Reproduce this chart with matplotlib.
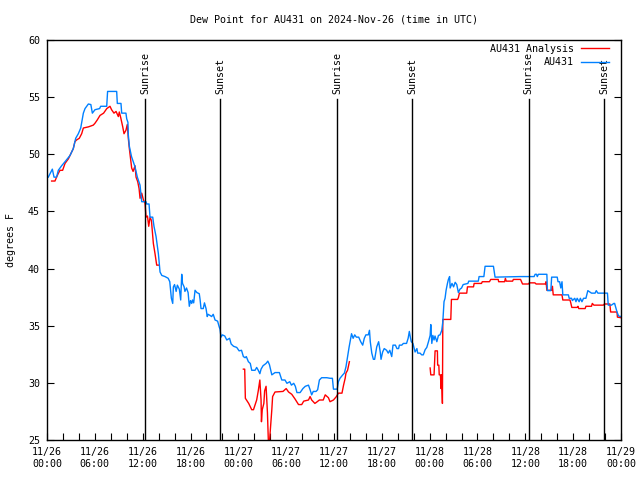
import numpy as np
import matplotlib
matplotlib.use('Agg')
import matplotlib.pyplot as plt

plt.rcParams['font.family'] = ['DejaVu Sans Mono']

title = "Dew Point for AU431 on 2024-Nov-26 (time in UTC)"

# hours since 2024-11-26 00:00 UTC
obs_hours = [0.16, 0.67, 0.88, 1.2, 1.42, 1.84, 2.26, 2.89, 3.3, 3.6, 3.93, 4.23, 4.56, 4.77, 5.19, 5.5, 5.69, 6.02,
             6.6, 6.73, 7.49, 7.6, 8.74, 8.82, 9.28, 9.37, 9.9, 10.0, 10.15, 10.2, 10.33, 10.6, 11.04, 11.33, 11.67,
             11.88, 12.42, 12.5, 12.8, 12.92, 13.26, 13.42, 13.68, 13.97, 14.18, 14.4, 14.8, 15.2, 15.4, 15.6, 15.77,
             15.85, 16.0, 16.2, 16.35, 16.6, 16.77, 16.9, 17.0, 17.2, 17.3, 17.5, 17.7, 17.85, 18.0, 18.15, 18.25,
             18.4, 18.57, 18.8, 19.1, 19.2, 19.32, 19.6, 19.75, 19.95, 20.1, 20.2, 20.45, 20.65, 20.85, 21.08, 21.4,
             21.6, 21.7, 21.83, 22.0, 22.3, 22.55, 22.9, 23.1, 23.4, 23.8, 24.1, 24.4, 24.63, 24.85, 25.0, 25.26,
             25.5, 25.68, 26.1, 26.3, 26.5, 26.7, 26.85, 27.1, 27.48, 27.7, 27.9, 28.2, 28.6, 29.15, 29.45, 29.85,
             30.1, 30.45, 30.66, 30.95, 31.15, 31.35, 31.75, 32.1, 32.4, 32.8, 33.0, 33.2, 33.4, 33.75, 33.95, 34.17,
             34.45, 35.1, 35.5, 35.8, 35.93, 36.4, 36.55, 36.75, 37.1, 37.3, 37.5, 37.7, 37.9, 38.1, 38.2, 38.4,
             38.6, 38.8, 39.1, 39.35, 39.6, 39.8, 40.0, 40.3, 40.45, 40.55, 40.74, 40.94, 41.1, 41.36, 41.6, 41.8,
             41.9, 42.1, 42.3, 42.6, 42.8, 43.0, 43.24, 43.4, 43.7, 43.9, 44.1, 44.2, 44.5, 44.7, 45.1, 45.3, 45.45,
             45.6, 45.7, 45.9, 46.17, 46.4, 46.5, 46.8, 47.0, 47.2, 47.43, 47.64, 47.85, 48.06, 48.14, 48.27, 48.4,
             48.55, 48.67, 48.9, 49.1, 49.3, 49.52, 49.65, 49.8, 49.93, 50.06, 50.23, 50.35, 50.5, 50.57, 50.8, 51.0,
             51.2, 51.4, 51.6, 51.8, 52.0, 52.2, 52.8, 52.9, 54.1, 54.2, 54.8, 54.95, 56.0, 56.2, 59.35, 61.1, 61.23,
             61.4, 61.5, 61.64, 62.7, 62.77, 63.2, 63.3, 64.0, 64.1, 64.3, 64.45, 64.6, 64.7, 65.4, 65.5, 65.8, 65.9,
             66.2, 66.35, 66.5, 66.75, 66.9, 67.1, 67.3, 67.6, 67.84, 68.3, 68.75, 68.9, 69.1, 70.3, 70.4, 70.8, 71.1,
             71.2, 71.5, 71.7, 72.0]
obs_dewpt = [48.0, 48.7, 48.0, 48.0, 48.6, 49.0, 49.35, 49.9, 50.5, 51.4, 51.8, 52.3, 53.6, 54.0, 54.4, 54.35, 53.6,
             53.9, 54.0, 54.2, 54.2, 55.5, 55.5, 54.45, 54.45, 53.6, 53.6, 53.1, 52.8, 51.7, 50.7, 49.8, 48.9, 48.0,
             47.3, 45.85, 45.85, 45.65, 45.65, 44.5, 44.5, 43.7, 42.8, 41.3, 39.7, 39.4, 39.3, 39.15, 38.85, 37.4,
             36.95, 38.4, 38.6, 38.0, 38.55, 38.2, 37.25, 39.5, 38.7, 38.4, 38.0, 38.3, 37.9, 36.7, 37.2, 36.95,
             37.25, 37.0, 38.1, 37.9, 37.8, 37.3, 36.5, 36.5, 37.0, 36.5, 35.8, 36.0, 35.9, 35.8, 36.0, 35.5, 35.4,
             34.9, 34.7, 34.0, 34.2, 34.1, 33.75, 33.9, 33.4, 33.2, 33.1, 32.8, 32.85, 32.3, 32.2, 32.3, 31.85, 31.7,
             31.1, 31.1, 31.35, 31.1, 30.8, 31.2, 31.5, 31.7, 31.9, 31.6, 30.7, 30.9, 30.9, 30.25, 30.25, 29.96,
             30.1, 29.8, 29.96, 29.7, 29.15, 29.15, 29.5, 29.7, 29.8, 29.4, 28.95, 29.25, 29.25, 29.4, 30.25, 30.45,
             30.45, 30.4, 30.4, 29.45, 29.45, 30.1, 30.4, 30.7, 30.85, 31.4, 32.3, 33.15, 33.9, 34.3, 33.9, 34.2,
             34.0, 34.0, 33.6, 33.3, 33.9, 34.2, 34.2, 34.6, 33.6, 32.6, 32.06, 32.06, 33.15, 33.6, 32.7, 32.06, 32.7,
             33.0, 32.85, 32.6, 32.85, 32.3, 33.3, 33.3, 33.0, 33.0, 33.3, 33.3, 33.45, 33.45, 33.9, 34.5, 33.9, 33.6,
             33.45, 32.7, 33.0, 32.6, 32.6, 32.45, 32.45, 32.9, 33.1, 33.6, 34.15, 35.1, 33.45, 34.15, 33.75, 34.1,
             33.6, 34.15, 34.2, 34.6, 35.35, 37.1, 37.4, 38.1, 38.7, 39.05, 39.3, 38.3, 38.7, 38.4, 38.8, 38.6, 37.9,
             38.2, 38.3, 38.6, 38.7, 38.9, 38.9, 39.3, 39.3, 40.2, 40.2, 39.25, 39.3, 39.3, 39.5, 39.5, 39.3, 39.5,
             39.5, 38.07, 38.07, 39.25, 39.25, 38.85, 38.85, 38.3, 38.85, 37.7, 37.7, 37.4, 37.4, 37.2, 37.4, 37.1,
             37.4, 37.1, 37.4, 37.1, 37.4, 37.4, 38.07, 37.85, 37.85, 38.07, 37.85, 37.85, 36.8, 36.8, 36.95, 36.95,
             36.2, 35.85, 35.8]

# analysis series; NaN marks gaps where no analysis is available
ana_hours = [0.58, 1.0, 1.2, 1.4, 1.63, 1.96, 2.26, 2.68, 3.1, 3.3, 3.5, 3.7, 4.05, 4.35, 4.56, 5.2, 5.8, 6.0, 6.3,
             6.65, 7.1, 7.3, 7.5, 7.9, 8.1, 8.4, 8.66, 8.95, 9.07, 9.25, 9.5, 9.66, 9.9, 10.07, 10.2, 10.33, 10.5,
             10.62, 10.8, 11.04, 11.17, 11.38, 11.55, 11.67, 11.88, 12.1, 12.3, 12.42, 12.6, 12.76, 12.93, 13.1,
             13.34, 13.55, 13.76, 13.97, 14.5,
             24.63, 24.8, 24.88, 25.3, 25.68, 25.9, 26.3, 26.5, 26.7, 26.85, 26.9, 27.0, 27.2, 27.3, 27.48, 27.65,
             27.77, 27.9, 28.05, 28.2, 28.3, 28.6, 29.6, 30.0, 30.3, 30.7, 31.1, 31.55, 31.95, 32.2, 32.8, 33.0, 33.2,
             33.6, 33.8, 34.17, 34.65, 34.9, 35.3, 35.5, 35.93, 36.3, 36.55, 37.0, 37.2, 37.4, 37.5, 37.7, 37.93, 40.0,
             48.06, 48.14, 48.55, 48.68, 48.97, 49.0, 49.15, 49.2, 49.35, 49.43, 49.5, 49.6, 49.65, 50.65, 50.73,
             51.5, 51.6, 51.73, 52.65, 52.74, 53.5, 53.58, 54.5, 54.6, 55.5, 55.66, 56.6, 56.65, 57.4, 57.5, 57.6,
             58.4, 58.5, 59.4, 59.65, 60.4, 60.5, 61.2, 61.35, 62.5, 62.6, 62.7, 63.3, 63.4, 63.5, 64.6, 64.7, 65.6,
             65.7, 65.83, 66.5, 66.6, 66.7, 67.5, 67.6, 68.3, 68.4, 68.6, 69.8, 69.9, 70.6, 70.7, 71.5, 71.55, 72.0]
ana_dewpt = [47.66, 47.66, 48.0, 48.3, 48.6, 48.6, 49.2, 49.6, 50.2, 50.5, 51.1, 51.25, 51.4, 51.8, 52.3, 52.4,
             52.55, 52.7, 53.0, 53.4, 53.6, 53.8, 54.0, 54.2, 53.9, 53.6, 53.75, 53.3, 53.7, 53.2, 52.4, 51.8, 52.1,
             52.6, 51.4, 50.5, 49.5, 48.8, 48.5, 49.0, 48.0, 47.6, 47.0, 46.15, 46.6, 46.0, 45.7, 44.5, 44.6, 43.7,
             44.5, 44.2, 42.2, 41.3, 40.3, 40.3, np.nan,
             31.2, 31.2, 28.65, 28.2, 27.65, 27.65, 28.5, 29.3, 30.25, 28.5, 26.6, 27.65, 28.2, 29.3, 29.7, 27.4,
             24.8, 24.8, 26.2, 27.65, 28.8, 29.2, 29.25, 29.5, 29.2, 29.0, 28.6, 28.1, 28.1, 28.4, 28.5, 28.8, 28.5,
             28.2, 28.3, 28.5, 28.5, 28.95, 28.7, 28.35, 28.5, 28.8, 29.1, 29.1, 29.8, 30.4, 30.85, 31.1, 31.85, np.nan,
             31.3, 30.7, 30.7, 32.8, 32.8, 31.55, 31.55, 30.7, 30.7, 29.5, 30.7, 28.2, 35.55, 35.55, 37.3, 37.3,
             37.45, 37.85, 37.85, 38.4, 38.4, 38.7, 38.7, 38.85, 38.85, 39.05, 39.05, 38.85, 38.85, 39.15, 38.9,
             38.9, 39.05, 39.05, 38.65, 38.65, 38.75, 38.75, 38.65, 38.65, 38.85, 38.1, 38.1, 38.45, 37.7, 37.7,
             37.25, 37.25, 37.0, 36.6, 36.6, 36.7, 36.5, 36.5, 36.7, 36.7, 36.95, 36.8, 36.8, 36.9, 36.9, 36.2, 36.2,
             35.75, 35.7]

sun_hours = [12.33, 21.75, 36.43, 45.84, 60.4, 69.93]
sun_labels = ["Sunrise", "Sunset", "Sunrise", "Sunset", "Sunrise", "Sunset"]

xtick_hours = [0, 6, 12, 18, 24, 30, 36, 42, 48, 54, 60, 66, 72]
xtick_labels = ["11/26\n00:00", "11/26\n06:00", "11/26\n12:00", "11/26\n18:00",
                "11/27\n00:00", "11/27\n06:00", "11/27\n12:00", "11/27\n18:00",
                "11/28\n00:00", "11/28\n06:00", "11/28\n12:00", "11/28\n18:00",
                "11/29\n00:00"]
ytick_vals = [25, 30, 35, 40, 45, 50, 55, 60]

fs = 7.2
fig = plt.figure(figsize=(6.4, 4.8), dpi=100)
ax = fig.add_axes([47/640, 40/480, 574/640, 400/480])

ax.plot(ana_hours, ana_dewpt, color='#ff0000', lw=1.0, label='AU431 Analysis')
ax.plot(obs_hours, obs_dewpt, color='#0080ff', lw=1.0, label='AU431')

for h, lab in zip(sun_hours, sun_labels):
    ax.plot([h, h], [25, 54.85], color='black', lw=1.0)
    ax.text(h, 55.3, lab, rotation=90, ha='center', va='bottom', fontsize=fs)

ax.set_xlim(0, 72)
ax.set_ylim(25, 60)
ax.set_xticks(xtick_hours)
ax.set_xticklabels(xtick_labels, fontsize=fs, linespacing=1.3)
ax.set_xticks(np.arange(0, 73, 2), minor=True)
ax.set_yticks(ytick_vals)
ax.set_yticklabels([str(v) for v in ytick_vals], fontsize=fs)
ax.tick_params(axis='both', which='both', direction='in', length=5, width=0.8,
               right=True, top=False)
ax.tick_params(axis='x', which='major', pad=5)
ax.tick_params(axis='y', which='major', pad=5)
for s in ax.spines.values():
    s.set_linewidth(1.0)

ax.set_ylabel('degrees F', fontsize=fs)
ax.yaxis.set_label_coords(-31/574, 0.5)

fig.text(334/640, 1 - 19/480, title, ha='center', va='center', fontsize=fs)

ax.legend(loc='upper right', bbox_to_anchor=((609-47)/574, (440-44)/400), frameon=False,
          markerfirst=False, handlelength=2.8, handletextpad=0.7, borderaxespad=0,
          borderpad=0, labelspacing=0.33, prop={'size': fs})

fig.savefig('out.png', dpi=100)
